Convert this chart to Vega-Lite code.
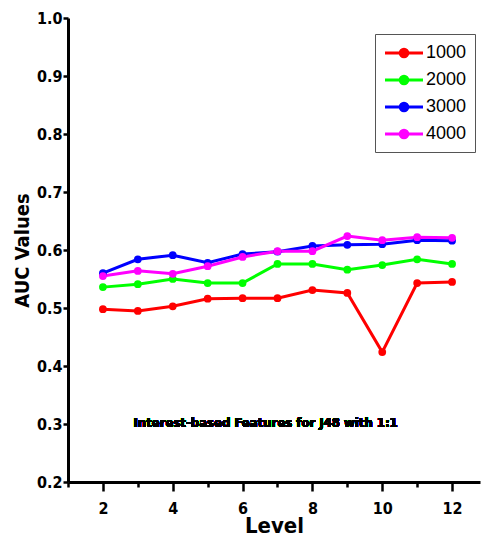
{
  "$schema": "https://vega.github.io/schema/vega-lite/v6.json",
  "width": 412,
  "height": 464,
  "autosize": {"type": "none"},
  "padding": {"left": 68, "top": 18, "right": 6, "bottom": 58},
  "background": "white",
  "config": {"view": {"stroke": null}},
  "resolve": {"axis": {"x": "independent"}},
  "data": {"values": [
    {"level": 2, "series": "1000", "auc": 0.498},
    {"level": 3, "series": "1000", "auc": 0.495},
    {"level": 4, "series": "1000", "auc": 0.503},
    {"level": 5, "series": "1000", "auc": 0.516},
    {"level": 6, "series": "1000", "auc": 0.517},
    {"level": 7, "series": "1000", "auc": 0.517},
    {"level": 8, "series": "1000", "auc": 0.531},
    {"level": 9, "series": "1000", "auc": 0.526},
    {"level": 10, "series": "1000", "auc": 0.424},
    {"level": 11, "series": "1000", "auc": 0.543},
    {"level": 12, "series": "1000", "auc": 0.545},
    {"level": 2, "series": "2000", "auc": 0.536},
    {"level": 3, "series": "2000", "auc": 0.541},
    {"level": 4, "series": "2000", "auc": 0.55},
    {"level": 5, "series": "2000", "auc": 0.543},
    {"level": 6, "series": "2000", "auc": 0.543},
    {"level": 7, "series": "2000", "auc": 0.576},
    {"level": 8, "series": "2000", "auc": 0.576},
    {"level": 9, "series": "2000", "auc": 0.566},
    {"level": 10, "series": "2000", "auc": 0.574},
    {"level": 11, "series": "2000", "auc": 0.584},
    {"level": 12, "series": "2000", "auc": 0.576},
    {"level": 2, "series": "3000", "auc": 0.56},
    {"level": 3, "series": "3000", "auc": 0.584},
    {"level": 4, "series": "3000", "auc": 0.591},
    {"level": 5, "series": "3000", "auc": 0.578},
    {"level": 6, "series": "3000", "auc": 0.593},
    {"level": 7, "series": "3000", "auc": 0.597},
    {"level": 8, "series": "3000", "auc": 0.607},
    {"level": 9, "series": "3000", "auc": 0.609},
    {"level": 10, "series": "3000", "auc": 0.61},
    {"level": 11, "series": "3000", "auc": 0.617},
    {"level": 12, "series": "3000", "auc": 0.616},
    {"level": 2, "series": "4000", "auc": 0.555},
    {"level": 3, "series": "4000", "auc": 0.564},
    {"level": 4, "series": "4000", "auc": 0.559},
    {"level": 5, "series": "4000", "auc": 0.572},
    {"level": 6, "series": "4000", "auc": 0.588},
    {"level": 7, "series": "4000", "auc": 0.598},
    {"level": 8, "series": "4000", "auc": 0.598},
    {"level": 9, "series": "4000", "auc": 0.624},
    {"level": 10, "series": "4000", "auc": 0.617},
    {"level": 11, "series": "4000", "auc": 0.622},
    {"level": 12, "series": "4000", "auc": 0.621}
  ]},
  "layer": [
    {
      "mark": {"type": "line", "strokeWidth": 3, "point": {"filled": true, "size": 60}},
      "encoding": {
        "x": {
          "field": "level", "type": "quantitative",
          "scale": {"domain": [1, 12.8], "nice": false, "zero": false},
          "axis": {
            "title": "Level", "values": [2,4,6,8,10,12], "orient": "bottom",
            "grid": false, "domainColor": "black", "domainWidth": 3, "tickColor": "black", "tickWidth": 2.5, "tickSize": 9,
            "labelFont": "DejaVu Sans Condensed", "labelFontWeight": "bold", "labelFontSize": 16, "labelColor": "black", "labelPadding": 9,
            "titleFont": "DejaVu Sans Condensed", "titleFontWeight": "bold", "titleFontSize": 22, "titleColor": "black", "titlePadding": -1
          }
        },
        "y": {
          "field": "auc", "type": "quantitative",
          "scale": {"domain": [0.2, 1.0], "nice": false, "zero": false},
          "axis": {
            "title": "AUC Values", "values": [0.2,0.3,0.4,0.5,0.6,0.7,0.8,0.9,1.0], "format": ".1f",
            "grid": false, "domainColor": "black", "domainWidth": 3, "tickColor": "black", "tickWidth": 2.5, "tickSize": 5,
            "labelFont": "DejaVu Sans Condensed", "labelFontWeight": "bold", "labelFontSize": 16, "labelColor": "black", "labelPadding": 1,
            "titleFont": "DejaVu Sans Condensed", "titleFontWeight": "bold", "titleFontSize": 20, "titleColor": "black", "titlePadding": 4
          }
        },
        "color": {
          "field": "series", "type": "nominal",
          "scale": {"domain": ["1000","2000","3000","4000"], "range": ["#ff0000","#00ff00","#0000ff","#ff00ff"]},
          "legend": {
            "title": null, "orient": "none", "legendX": 307, "legendY": 16,
            "strokeColor": "#555", "padding": 8, "rowPadding": 6,
            "symbolType": "M-2,0H2M-0.4,0A0.4,0.4 0 1,0 0.4,0A0.4,0.4 0 1,0 -0.4,0",
            "symbolSize": 361, "symbolStrokeWidth": 3, "symbolOffset": 10,
            "labelFont": "Liberation Sans", "labelFontSize": 18, "labelColor": "black", "labelOffset": 11
          }
        }
      }
    },
    {
      "mark": {"type": "text", "font": "DejaVu Sans Condensed", "fontWeight": "bold", "fontSize": 13, "color": "black", "align": "center", "baseline": "middle"},
      "encoding": {
        "x": {"datum": 6.66, "type": "quantitative",
          "axis": {"title": null, "orient": "bottom", "values": [1,3,5,7,9,11], "labels": false, "domain": false, "grid": false,
                   "tickColor": "black", "tickWidth": 2.5, "tickSize": 5}},
        "y": {"datum": 0.302, "type": "quantitative"},
        "text": {"value": "Interest-based Features for J48 with 1:1"}
      }
    }
  ]
}
